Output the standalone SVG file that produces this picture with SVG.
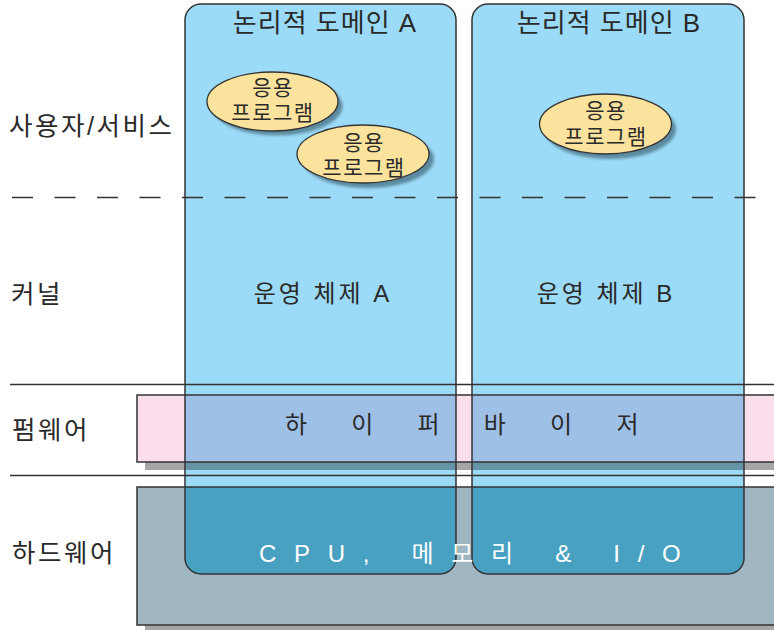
<svg xmlns="http://www.w3.org/2000/svg" width="774" height="630" viewBox="0 0 774 630">
<style>
text{font-family:"Liberation Sans","Noto Sans CJK KR",sans-serif;fill:#2a2a2a}
.lbl{font-size:25.5px;letter-spacing:2.5px}
.title{font-size:26px;text-anchor:middle;letter-spacing:1px}
.os{font-size:24px;text-anchor:middle;letter-spacing:3px}
.app{font-size:21px;text-anchor:middle;letter-spacing:1.5px}
.ln{stroke:#333;stroke-width:1.5;fill:none}
.dom{fill:#9cdbf7}
.ell{fill:#fbe39d;stroke:#333;stroke-width:1.3}
.eshadow{fill:#5b8aa0;filter:url(#blur)}
.wide{font-size:24px;letter-spacing:17.7px}
.hyp{font-size:24px;letter-spacing:44.2px}
</style>
<defs>
<clipPath id="domclip">
<rect x="185" y="4" width="271" height="570" rx="16"/>
<rect x="472" y="4" width="272" height="570" rx="16"/>
</clipPath>
<filter id="blur" x="-20%" y="-20%" width="140%" height="140%"><feGaussianBlur stdDeviation="1.5"/></filter>
</defs>

<g id="firmware-fill">
<rect x="145" y="403" width="640" height="67" fill="#a6a6a6"/>
<rect x="137" y="395" width="645" height="67" fill="#fbdeeb"/>
</g>
<g id="hardware-fill">
<rect x="145" y="495" width="640" height="140" fill="#a6a6a6"/>
<rect x="137" y="487" width="645" height="138" fill="#a0b6c3"/>
</g>

<g id="domains-fill">
<rect class="dom" x="185" y="4" width="271" height="570" rx="16"/>
<rect class="dom" x="472" y="4" width="272" height="570" rx="16"/>
<g clip-path="url(#domclip)">
<rect x="145" y="403" width="640" height="67" fill="#6594a6"/>
<rect x="137" y="395" width="645" height="67" fill="#9fc0e6"/>
<rect x="137" y="487" width="645" height="138" fill="#49a1c1"/>
</g>
</g>

<g id="connectors">
<line class="ln" x1="10" y1="384.5" x2="774" y2="384.5"/>
<line class="ln" x1="10" y1="475.5" x2="774" y2="475.5"/>
<line x1="12" y1="197.5" x2="774" y2="197.5" stroke="#333" stroke-width="1.3" stroke-dasharray="21 21.5"/>
</g>

<g id="firmware">
<rect class="ln" x="137" y="395" width="645" height="67"/>
<text class="hyp" x="285" y="433">하이퍼바이저</text>
</g>
<g id="hardware">
<rect class="ln" x="137" y="487" width="645" height="138"/>
</g>

<g id="domainA">
<rect class="ln" x="185" y="4" width="271" height="570" rx="16"/>
<text class="title" x="325" y="32">논리적 도메인 A</text>
<text class="os" x="323" y="302">운영 체제 A</text>
</g>
<g id="domainB">
<rect class="ln" x="472" y="4" width="272" height="570" rx="16"/>
<text class="title" x="609" y="32">논리적 도메인 B</text>
<text class="os" x="606" y="302">운영 체제 B</text>
</g>

<g id="app1">
<ellipse class="eshadow" cx="277" cy="106" rx="65.5" ry="29.5"/>
<ellipse class="ell" cx="272.5" cy="101.5" rx="65.5" ry="29.5"/>
<text class="app" x="273" y="95">응용</text>
<text class="app" x="273" y="120">프로그램</text>
</g>
<g id="app2">
<ellipse class="eshadow" cx="368" cy="159" rx="66" ry="29"/>
<ellipse class="ell" cx="363" cy="154" rx="66" ry="29"/>
<text class="app" x="364" y="150">응용</text>
<text class="app" x="364" y="175">프로그램</text>
</g>
<g id="app3">
<ellipse class="eshadow" cx="610" cy="129" rx="66" ry="30"/>
<ellipse class="ell" cx="605.5" cy="124" rx="66" ry="30"/>
<text class="app" x="606" y="118">응용</text>
<text class="app" x="606" y="144">프로그램</text>
</g>

<g id="hw-label">
<text class="wide" x="259" y="562" style="fill:#fff">CPU, 메모리 &amp; I/O</text>
</g>

<g id="layer-labels">
<text class="lbl" x="9" y="135">사용자/서비스</text>
<text class="lbl" x="11" y="303">커널</text>
<text class="lbl" x="12" y="439">펌웨어</text>
<text class="lbl" x="12" y="562">하드웨어</text>
</g>
</svg>
